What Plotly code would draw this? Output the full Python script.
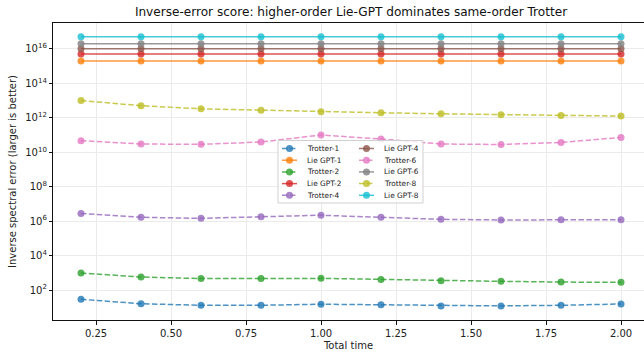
import plotly.graph_objects as go

# ---------------- data ----------------
total_time = [0.2, 0.4, 0.6, 0.8, 1.0, 1.2, 1.4, 1.6, 1.8, 2.0]

trotter_1 = [29, 16, 13, 13, 15, 14, 12, 12, 13, 15.5]
trotter_2 = [970, 570, 460, 460, 475, 415, 350, 320, 290, 280]
trotter_4 = [2.8e6, 1.66e6, 1.45e6, 1.8e6, 2.2e6, 1.66e6, 1.27e6, 1.17e6, 1.2e6, 1.2e6]
trotter_6 = [4.7e10, 3.0e10, 2.85e10, 3.9e10, 1.0e11, 5.8e10, 3.0e10, 2.8e10, 3.7e10, 7.2e10]
trotter_8 = [1.0e13, 5.0e12, 3.3e12, 2.7e12, 2.2e12, 1.95e12, 1.7e12, 1.5e12, 1.35e12, 1.25e12]

lie_gpt_1 = [2e15, 2e15, 2e15, 2e15, 2e15, 2e15, 2e15, 2e15, 2e15, 2e15]
lie_gpt_2 = [5e15, 5e15, 5e15, 5e15, 5e15, 5e15, 5e15, 5e15, 5e15, 5e15]
lie_gpt_4 = [1e16, 1e16, 1e16, 1e16, 1e16, 1e16, 1e16, 1e16, 1e16, 1e16]
lie_gpt_6 = [2e16, 2e16, 2e16, 2e16, 2e16, 2e16, 2e16, 2e16, 2e16, 2e16]
lie_gpt_8 = [5e16, 5e16, 5e16, 5e16, 5e16, 5e16, 5e16, 5e16, 5e16, 5e16]

series_names = ["Trotter-1", "Lie GPT-1", "Trotter-2", "Lie GPT-2", "Trotter-4",
                "Lie GPT-4", "Trotter-6", "Lie GPT-6", "Trotter-8", "Lie GPT-8"]
series_values = [trotter_1, lie_gpt_1, trotter_2, lie_gpt_2, trotter_4,
                 lie_gpt_4, trotter_6, lie_gpt_6, trotter_8, lie_gpt_8]

x_tick_step = 0.25      # x ticks 0.25 ... 2.00
y_tick_decades = 2      # y ticks 10^2, 10^4, ... 10^16

# ---------------- style ----------------
colors = ["#1f77b4", "#ff7f0e", "#2ca02c", "#d62728", "#9467bd",
          "#8c564b", "#e377c2", "#7f7f7f", "#bcbd22", "#17becf"]


def rgba(hexc, a):
    h = hexc.lstrip("#")
    return "rgba(%d,%d,%d,%.2f)" % (int(h[0:2], 16), int(h[2:4], 16), int(h[4:6], 16), a)


W, H = 644, 352
ML, MR, MT, MB = 53, 0, 23, 32
PW, PH = W - ML - MR, H - MT - MB
FONT = "DejaVu Sans"
DASH = "5.5px,2.4px"

fig = go.Figure()
for i, (name, vals) in enumerate(zip(series_names, series_values)):
    is_trotter = name.startswith("Trotter")
    fig.add_trace(go.Scatter(
        x=total_time, y=vals, name=name, mode="lines+markers", showlegend=False,
        line=dict(color=rgba(colors[i], 0.8), width=1.5,
                  dash=DASH if is_trotter else "solid"),
        marker=dict(color=rgba(colors[i], 0.8), size=7, symbol="circle",
                    line=dict(width=0)),
        xaxis="x", yaxis="y",
    ))

# ---------------- legend (2 columns, matplotlib-like), drawn on a pixel overlay ----------------
# overlay axes measured in pixels of the plot area (y grows downward)
LEG_LEFT, LEG_TOP, LEG_W, LEG_H = 225, 117.5, 145, 62.5
ROW0, ROW_STEP = 8.0, 11.7
COL_STEP = 77
SYM_X0, SYM_LEN, TEXT_X = 4, 15, 27
N_ROWS = 5

fig.add_trace(go.Scatter(
    x=[LEG_LEFT, LEG_LEFT + LEG_W, LEG_LEFT + LEG_W, LEG_LEFT, LEG_LEFT],
    y=[LEG_TOP, LEG_TOP, LEG_TOP + LEG_H, LEG_TOP + LEG_H, LEG_TOP],
    mode="lines", fill="toself", fillcolor="rgba(255,255,255,0.8)",
    line=dict(color="#d0d0d0", width=1), showlegend=False, hoverinfo="skip",
    xaxis="x2", yaxis="y2"))

for i, name in enumerate(series_names):
    col, row = divmod(i, N_ROWS)
    cx = LEG_LEFT + col * COL_STEP + SYM_X0
    cy = LEG_TOP + ROW0 + row * ROW_STEP
    is_trotter = name.startswith("Trotter")
    fig.add_trace(go.Scatter(
        x=[cx, cx + SYM_LEN], y=[cy, cy], mode="lines", showlegend=False,
        hoverinfo="skip",
        line=dict(color=rgba(colors[i], 0.8), width=1.5,
                  dash=DASH if is_trotter else "solid"),
        xaxis="x2", yaxis="y2"))
    fig.add_trace(go.Scatter(
        x=[cx + SYM_LEN / 2], y=[cy], mode="markers", showlegend=False,
        hoverinfo="skip",
        marker=dict(color=rgba(colors[i], 0.8), size=7, line=dict(width=0)),
        xaxis="x2", yaxis="y2"))
    fig.add_annotation(x=LEG_LEFT + col * COL_STEP + TEXT_X, y=cy, xref="x2", yref="y2",
                       text=name, showarrow=False, xanchor="left", yanchor="middle",
                       font=dict(family=FONT, size=7.4, color="#222"))

fig.update_layout(
    width=W, height=H,
    margin=dict(l=ML, r=MR, t=MT, b=MB, pad=0),
    paper_bgcolor="white", plot_bgcolor="white",
    font=dict(family=FONT, size=10, color="#222"),
    showlegend=False,
    title=dict(text="Inverse-error score: higher-order Lie-GPT dominates same-order Trotter",
               x=(351 - ML) / PW, xref="paper", xanchor="center", y=1 - 12 / H,
               yanchor="middle", font=dict(family=FONT, size=12.1, color="#111")),
    xaxis=dict(range=[0.2 - 28 / 300, 0.2 + (PW - 28) / 300],
               tick0=0, dtick=x_tick_step, tickformat=".2f",
               tickfont=dict(family=FONT, size=10, color="#222"),
               showline=True, linecolor="#111", linewidth=1, mirror=True,
               ticks="outside", ticklen=3.5, tickcolor="#111",
               showgrid=True, gridcolor="#ebebeb", gridwidth=1, zeroline=False,
               title=dict(text="Total time", standoff=4,
                          font=dict(family=FONT, size=10))),
    yaxis=dict(type="log", range=[0.26, 17.5],
               tick0=0, dtick=y_tick_decades, exponentformat="power",
               tickfont=dict(family=FONT, size=8, color="#222"),
               showline=True, linecolor="#111", linewidth=1, mirror=False,
               ticks="outside", ticklen=3.5, tickcolor="#111",
               showgrid=True, gridcolor="#ebebeb", gridwidth=1, zeroline=False,
               title=dict(text="Inverse spectral error (larger is better)", standoff=6,
                          font=dict(family=FONT, size=10))),
    xaxis2=dict(range=[0, PW], visible=False, overlaying="x", anchor="y2",
                fixedrange=True),
    yaxis2=dict(range=[PH, 0], visible=False, overlaying="y", anchor="x2",
                fixedrange=True),
)

fig.write_html("out.html")
